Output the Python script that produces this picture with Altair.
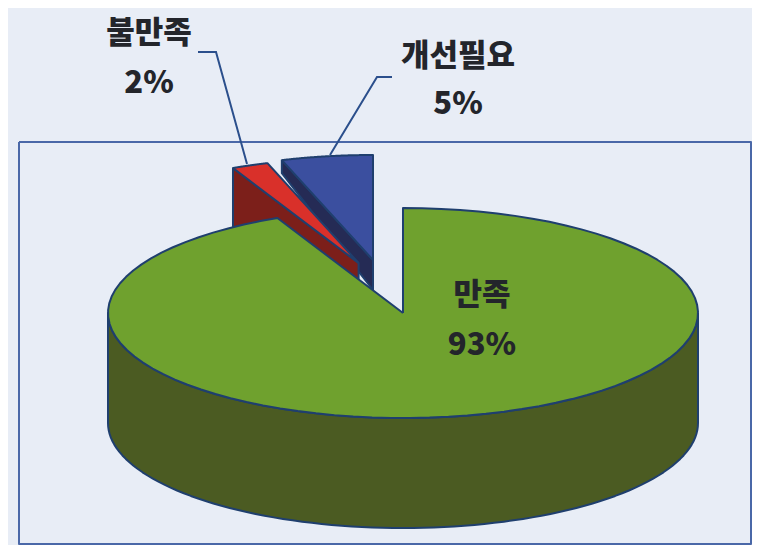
import math
import altair as alt
import pandas as pd

categories = ["만족", "개선필요", "불만족"]
shares = [93, 5, 2]
percent_labels = ["93%", "5%", "2%"]

W, H = 744, 537
OX, OY = 8, 8          # page margin, so positions below read as screenshot pixels
RX, RY, DEPTH = 295, 105, 110
BG, EDGE = "#e8edf6", "#1f3f6e"
FRAME = "#4a68a8"
TOP = {"만족": "#6fa12e", "개선필요": "#3b4f9f", "불만족": "#d9302a"}
SIDE = {"만족": "#4b5b22", "개선필요": "#252b55", "불만족": "#7c1f1a"}
# where each slice's apex sits on the page (the two small slices are pulled out)
APEX = {"만족": (403, 313), "개선필요": (373, 260), "불만족": (358.6, 263)}

start_of = {"만족": 0.0, "불만족": 93 * 3.6, "개선필요": 95 * 3.6}
size_of = dict(zip(categories, [s * 3.6 for s in shares]))


def rim(cat, a0=None, a1=None, n=90, dy=0):
    a0 = start_of[cat] if a0 is None else a0
    a1 = start_of[cat] + size_of[cat] if a1 is None else a1
    cx, cy = APEX[cat]
    return [(cx + RX * math.sin(math.radians(a0 + (a1 - a0) * i / n)),
             cy - RY * math.cos(math.radians(a0 + (a1 - a0) * i / n)) + dy)
            for i in range(n + 1)]


def poly(points, fill, stroke=EDGE, sw=2):
    pts = list(points) + [points[0]]
    df = pd.DataFrame({"x": [p[0] - OX for p in pts],
                       "y": [p[1] - OY for p in pts],
                       "o": range(len(pts))})
    return alt.Chart(df).mark_line(fill=fill, stroke=stroke, strokeWidth=sw, strokeJoin="round").encode(
        x=alt.X("x:Q", scale=xs, axis=None),
        y=alt.Y("y:Q", scale=ys, axis=None),
        order="o:Q",
    )


xs = alt.Scale(domain=[0, W], nice=False, zero=False)
ys = alt.Scale(domain=[H, 0], nice=False, zero=False)

layers = []
# frame
layers.append(poly([(19, 142), (751, 142), (751, 544), (19, 544)], BG, FRAME, 2))

# blue slice
c = "개선필요"
ax, ay = APEX[c]
blue_rim = rim(c)
p0, p1 = blue_rim[0], blue_rim[-1]
layers.append(poly([p0, (ax, ay), (ax, ay + 30), (p0[0], p0[1] + 13)], SIDE[c]))
layers.append(poly([(ax, ay)] + blue_rim, TOP[c]))

# red slice
c = "불만족"
ax, ay = APEX[c]
red_rim = rim(c)
layers.append(poly([red_rim[0], (ax, ay), (ax, ay + DEPTH), (red_rim[0][0], red_rim[0][1] + DEPTH)], SIDE[c]))
layers.append(poly([(ax, ay)] + red_rim, TOP[c]))

# green slice
c = "만족"
ax, ay = APEX[c]
front = rim(c, 90, 270)
layers.append(poly(front + [(p[0], p[1] + DEPTH) for p in reversed(front)], SIDE[c]))
layers.append(poly([(ax, ay)] + rim(c), TOP[c]))


# leader lines
def leader(points):
    df = pd.DataFrame({"x": [p[0] - OX for p in points],
                       "y": [p[1] - OY for p in points],
                       "o": range(len(points))})
    return alt.Chart(df).mark_line(stroke="#2b4f8c", strokeWidth=2).encode(
        x=alt.X("x:Q", scale=xs, axis=None),
        y=alt.Y("y:Q", scale=ys, axis=None),
        order="o:Q",
    )


layers.append(leader([(198, 52), (216, 52), (247, 164)]))
layers.append(leader([(392, 77), (377, 77), (330, 155)]))

# labels
FONT = "Noto Sans CJK KR"
label_rows = [
    (categories[2], 149, 34, 31),
    (percent_labels[2], 149, 84, 31),
    (categories[1], 458, 57, 31),
    (percent_labels[1], 458, 105, 31),
    (categories[0], 482, 296, 31),
    (percent_labels[0], 482, 346, 31),
]
for txt, x, y, size in label_rows:
    df = pd.DataFrame({"x": [x - OX], "y": [y - OY], "t": [txt]})
    layers.append(
        alt.Chart(df).mark_text(font=FONT, fontSize=size, fontWeight=900, color="#23252b",
                                align="center", baseline="middle").encode(
            x=alt.X("x:Q", scale=xs, axis=None),
            y=alt.Y("y:Q", scale=ys, axis=None),
            text="t:N",
        )
    )

chart = alt.layer(*layers).properties(
    width=W, height=H, background=BG, padding=0,
    autosize=alt.AutoSizeParams(type="none"),
).configure_view(stroke=None, clip=False)

chart.save("out.html", embed_options={"renderer": "svg", "actions": False})
